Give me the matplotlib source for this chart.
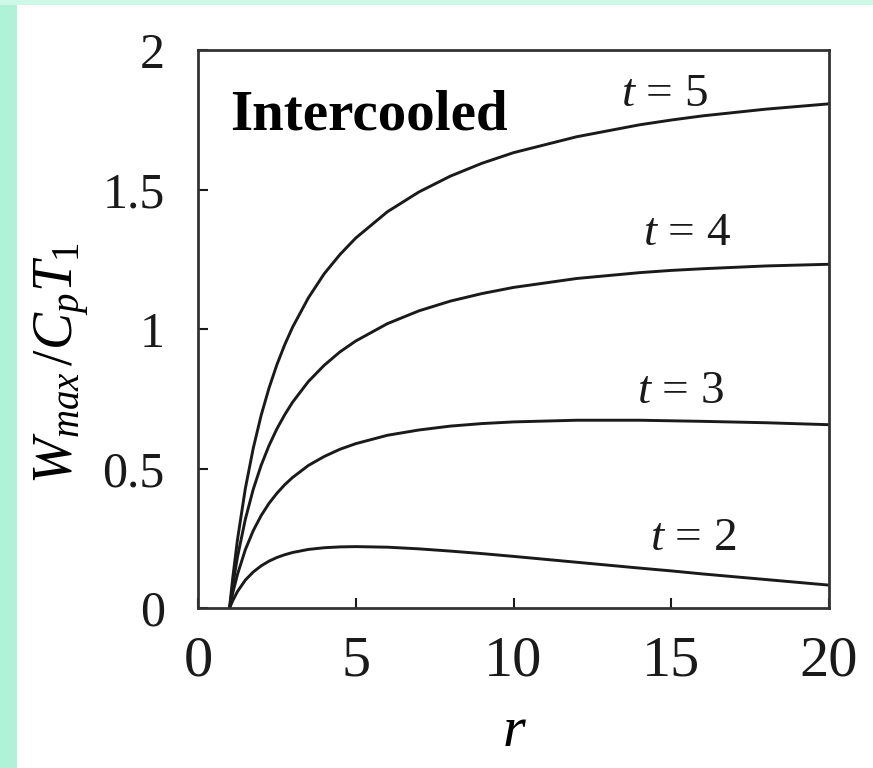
import matplotlib
matplotlib.use("Agg")
import matplotlib.pyplot as plt
from matplotlib.patches import Rectangle

# pressure ratio r and net work W_max/(Cp T1)
r_vals = [1, 1.1, 1.25, 1.5, 1.75, 2, 2.25, 2.5, 2.75, 3, 3.5, 4, 4.5, 5,
          6, 7, 8, 9, 10, 12, 14, 15, 16, 18, 20]
w_t2 = [0, 0.026, 0.059, 0.100, 0.129, 0.151, 0.168, 0.181, 0.191, 0.199,
        0.210, 0.216, 0.219, 0.220, 0.218, 0.212, 0.204, 0.195, 0.185,
        0.164, 0.143, 0.133, 0.122, 0.102, 0.082]
w_t3 = [0, 0.053, 0.120, 0.209, 0.277, 0.331, 0.375, 0.411, 0.442, 0.468,
        0.511, 0.543, 0.569, 0.589, 0.619, 0.638, 0.652, 0.661, 0.667,
        0.673, 0.673, 0.671, 0.669, 0.664, 0.657]
w_t4 = [0, 0.080, 0.182, 0.318, 0.425, 0.511, 0.582, 0.642, 0.693, 0.738,
        0.812, 0.870, 0.918, 0.957, 1.019, 1.065, 1.100, 1.127, 1.149,
        1.181, 1.202, 1.210, 1.216, 1.226, 1.232]
w_t5 = [0, 0.107, 0.244, 0.428, 0.572, 0.690, 0.788, 0.872, 0.944, 1.007,
        1.112, 1.198, 1.267, 1.326, 1.420, 1.491, 1.548, 1.594, 1.632,
        1.689, 1.732, 1.749, 1.764, 1.788, 1.807]

curves = [w_t2, w_t3, w_t4, w_t5]
t_values = ["2", "3", "4", "5"]
label_pos = [(15.7, 0.25), (15.3, 0.775), (15.5, 1.34), (14.8, 1.84)]

x_ticks = [0, 5, 10, 15, 20]
y_ticks = [0, 0.5, 1, 1.5, 2]
y_ticklabels = ["0", "0.5", "1", "1.5", "2"]

plt.rcParams["font.family"] = "Liberation Serif"
plt.rcParams["mathtext.fontset"] = "custom"
plt.rcParams["mathtext.rm"] = "Liberation Serif"
plt.rcParams["mathtext.it"] = "Liberation Serif:italic"

fig = plt.figure(figsize=(8.73, 7.68), dpi=100)
fig.patch.set_facecolor("white")

# mint frame strips from the slide background
fig.patches.append(Rectangle((0, 0), 17 / 873, 1, transform=fig.transFigure,
                             facecolor="#b0f2d8", edgecolor="none"))
fig.patches.append(Rectangle((0, 1 - 5 / 768), 1, 5 / 768, transform=fig.transFigure,
                             facecolor="#cdf8e7", edgecolor="none"))

ax = fig.add_axes([198 / 873, 1 - 608 / 768, 631 / 873, 558 / 768])

for w in curves:
    ax.plot(r_vals, w, color="#1a1a1a", lw=2.1, solid_capstyle="round",
            solid_joinstyle="round")

for tv, (x, y) in zip(t_values, label_pos):
    ax.text(x, y, "$t$ = " + tv, fontsize=34, ha="center", va="center",
            color="#1a1a1a")

ax.text(1.02, 1.714, "Intercooled", fontsize=41, fontweight="bold",
        ha="left", va="baseline", color="black")

ax.set_xlim(0, 20)
ax.set_ylim(0, 2)
ax.set_xticks(x_ticks)
ax.set_yticks(y_ticks)
ax.set_yticklabels(y_ticklabels)
ax.tick_params(axis="x", direction="in", length=7, width=1.5, labelsize=42,
               pad=20, colors="#1a1a1a")
ax.tick_params(axis="y", direction="in", length=7, width=1.5, labelsize=36,
               pad=24, colors="#1a1a1a")
for s in ax.spines.values():
    s.set_linewidth(2.0)
    s.set_color("#333333")

ax.set_xlabel("$r$", fontsize=42)
ax.xaxis.set_label_coords(0.502, -0.175)
ax.set_ylabel(r"$W_{max}\,/C_pT_1$", fontsize=40)
ax.yaxis.set_label_coords(-0.168, 0.44)

fig.savefig("out.png", dpi=100, facecolor=fig.get_facecolor())
